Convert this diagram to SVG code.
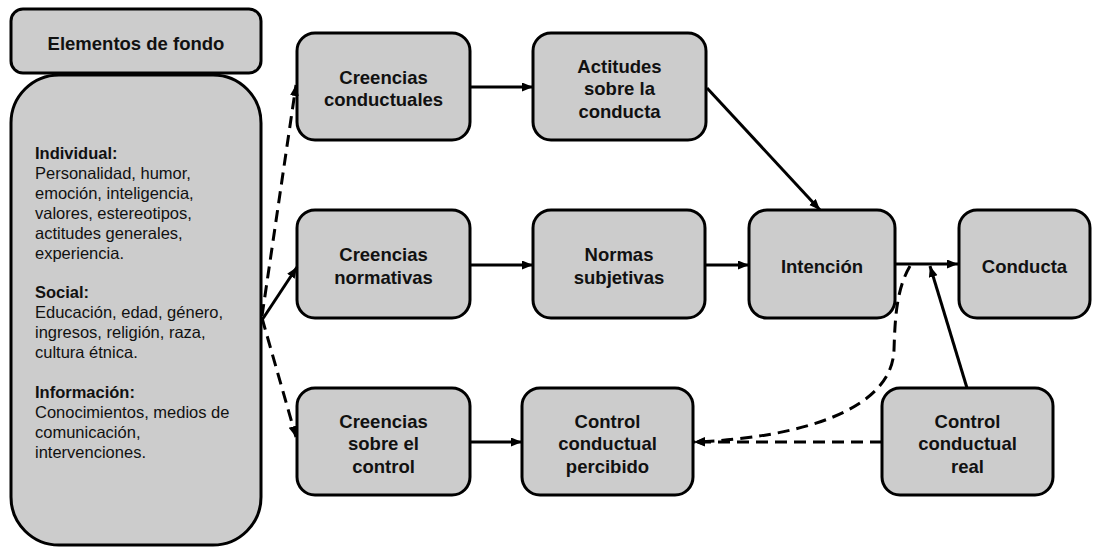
<svg xmlns="http://www.w3.org/2000/svg" width="1099" height="548" viewBox="0 0 1099 548">
  <defs>
    <marker id="arrow" markerUnits="userSpaceOnUse" markerWidth="12" markerHeight="10" refX="11" refY="4.5" orient="auto">
      <path d="M0,0 L11,4.5 L0,9 z" fill="#000"/>
    </marker>
    <style>
      .box { fill: #cccccc; stroke: #000; stroke-width: 3; }
      .lbl { font-family: "Liberation Sans", Arial, sans-serif; font-weight: bold; font-size: 18.5px; fill: #111; text-anchor: middle; }
      .body { font-family: "Liberation Sans", Arial, sans-serif; font-size: 16.5px; fill: #111; }
      .body .hd { font-weight: bold; }
      .edge { fill: none; stroke: #000; stroke-width: 3; marker-end: url(#arrow); }
      .dash { stroke-dasharray: 12 7; }
    </style>
  </defs>

  <!-- Background factors -->
  <g id="elementos-de-fondo">
    <rect class="box" x="11" y="9" width="250" height="64" rx="12"/>
    <text class="lbl" x="136" y="50">Elementos de fondo</text>
  </g>
  <g id="factores">
    <rect class="box" x="11" y="75" width="250" height="470" rx="48"/>
    <text class="body">
      <tspan class="hd" x="35" y="159">Individual:</tspan>
      <tspan x="35" y="179">Personalidad, humor,</tspan>
      <tspan x="35" y="199">emoción, inteligencia,</tspan>
      <tspan x="35" y="219">valores, estereotipos,</tspan>
      <tspan x="35" y="239">actitudes generales,</tspan>
      <tspan x="35" y="259">experiencia.</tspan>
      <tspan class="hd" x="35" y="298">Social:</tspan>
      <tspan x="35" y="318">Educación, edad, género,</tspan>
      <tspan x="35" y="338">ingresos, religión, raza,</tspan>
      <tspan x="35" y="358">cultura étnica.</tspan>
      <tspan class="hd" x="35" y="398">Información:</tspan>
      <tspan x="35" y="418">Conocimientos, medios de</tspan>
      <tspan x="35" y="438">comunicación,</tspan>
      <tspan x="35" y="458">intervenciones.</tspan>
    </text>
  </g>

  <!-- Row 1 -->
  <g id="creencias-conductuales">
    <rect class="box" x="297" y="33" width="173" height="107" rx="18"/>
    <text class="lbl" x="383.5" y="83.5">Creencias</text>
    <text class="lbl" x="383.5" y="106">conductuales</text>
  </g>
  <g id="actitudes">
    <rect class="box" x="533" y="33" width="173" height="107" rx="18"/>
    <text class="lbl" x="619.5" y="72.5">Actitudes</text>
    <text class="lbl" x="619.5" y="95">sobre la</text>
    <text class="lbl" x="619.5" y="117.5">conducta</text>
  </g>

  <!-- Row 2 -->
  <g id="creencias-normativas">
    <rect class="box" x="297" y="210" width="173" height="108" rx="18"/>
    <text class="lbl" x="383.5" y="261">Creencias</text>
    <text class="lbl" x="383.5" y="283.5">normativas</text>
  </g>
  <g id="normas-subjetivas">
    <rect class="box" x="533" y="210" width="172" height="108" rx="18"/>
    <text class="lbl" x="619" y="261">Normas</text>
    <text class="lbl" x="619" y="283.5">subjetivas</text>
  </g>
  <g id="intencion">
    <rect class="box" x="749" y="210" width="146" height="108" rx="18"/>
    <text class="lbl" x="822" y="272.5">Intención</text>
  </g>
  <g id="conducta">
    <rect class="box" x="959" y="210" width="131" height="108" rx="18"/>
    <text class="lbl" x="1024.5" y="272.5">Conducta</text>
  </g>

  <!-- Row 3 -->
  <g id="creencias-control">
    <rect class="box" x="297" y="388" width="173" height="107" rx="18"/>
    <text class="lbl" x="383.5" y="427.5">Creencias</text>
    <text class="lbl" x="383.5" y="450">sobre el</text>
    <text class="lbl" x="383.5" y="472.5">control</text>
  </g>
  <g id="control-percibido">
    <rect class="box" x="522" y="388" width="171" height="107" rx="18"/>
    <text class="lbl" x="607.5" y="427.5">Control</text>
    <text class="lbl" x="607.5" y="450">conductual</text>
    <text class="lbl" x="607.5" y="472.5">percibido</text>
  </g>
  <g id="control-real">
    <rect class="box" x="882" y="388" width="171" height="107" rx="18"/>
    <text class="lbl" x="967.5" y="427.5">Control</text>
    <text class="lbl" x="967.5" y="450">conductual</text>
    <text class="lbl" x="967.5" y="472.5">real</text>
  </g>

  <!-- Connectors -->
  <g id="connectors">
    <path class="edge dash" d="M262,316 L296,85"/>
    <path class="edge" d="M262,320 L297,267"/>
    <path class="edge dash" d="M262,318 L296,437"/>
    <path class="edge" d="M470,87 L533,87"/>
    <path class="edge" d="M470,265 L533,265"/>
    <path class="edge" d="M705,265 L749,265"/>
    <path class="edge" d="M707,88 L820,210"/>
    <path class="edge" d="M895,264 L958,264"/>
    <path class="edge" d="M470,442 L522,442"/>
    <path class="edge" d="M967,388 L930,266"/>
    <path class="edge dash" d="M882,442 L694,442"/>
    <path class="edge dash" d="M910,266 C896,290 895,320 894,350 C892,410 800,438 694,442"/>
  </g>
</svg>
